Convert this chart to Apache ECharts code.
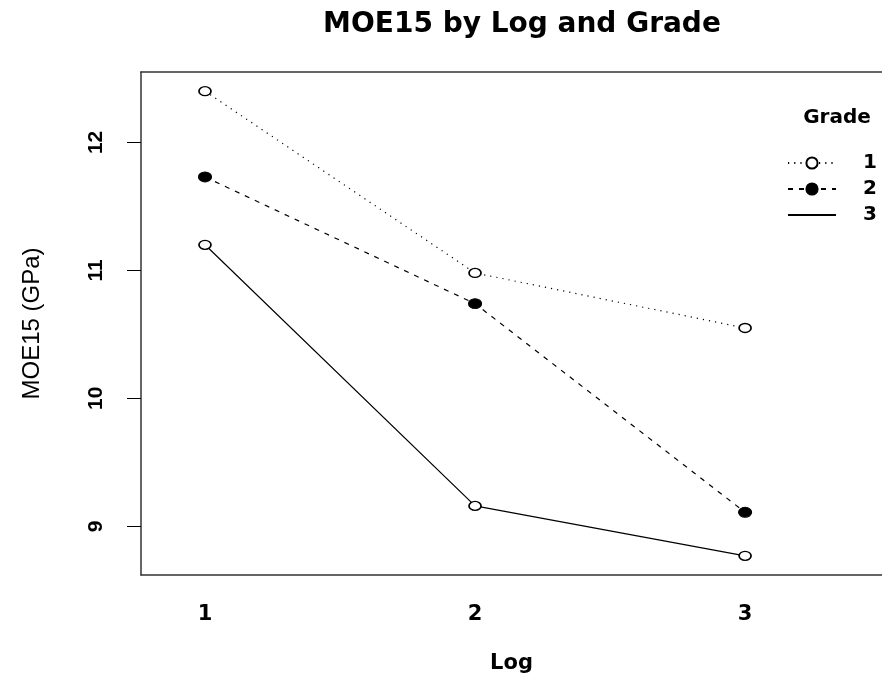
<!DOCTYPE html>
<html>
<head>
<meta charset="utf-8">
<script src="https://cdn.jsdelivr.net/npm/echarts@6/dist/echarts.min.js"></script>
<style>
  html, body { margin: 0; padding: 0; background: #fff; }
  #chart { width: 882px; height: 681px; }
</style>
</head>
<body>
<div id="chart"></div>
<script>
// log positions on x, one value per log for each grade
const logs = [1, 2, 3]
const grade1 = [12.40, 10.98, 10.55]
const grade2 = [11.73, 10.74, 9.11]
const grade3 = [11.20, 9.16, 8.77]
const yTicks = [9, 10, 11, 12]

const pairs = vals => logs.map((x, i) => [x, vals[i]])

const chart = echarts.init(document.getElementById('chart'))

const openDot = { color: '#fff', borderColor: '#000', borderWidth: 1.5 }
const frame = { show: true, lineStyle: { color: '#333', width: 1.5 } }

chart.setOption({
  animation: false,
  backgroundColor: '#fff',
  title: [{
    text: 'MOE15 by Log and Grade',
    left: 517,
    top: 6,
    textAlign: 'center',
    textStyle: { fontFamily: 'DejaVu Sans', fontWeight: 'bold', fontSize: 28, color: '#000' }
  }, {
    text: 'Grade',
    left: 832,
    top: 103,
    textAlign: 'center',
    textStyle: { fontFamily: 'DejaVu Sans', fontWeight: 'bold', fontSize: 20, color: '#000' }
  }],
  legend: {
    orient: 'vertical',
    left: 782,
    top: 148,
    itemWidth: 48,
    itemHeight: 14,
    itemGap: 6,
    data: [
      { name: '1' },
      { name: '2' },
      { name: '3', itemStyle: { color: 'rgba(0,0,0,0)', borderColor: 'rgba(0,0,0,0)', borderWidth: 0 } }
    ],
    textStyle: {
      fontFamily: 'DejaVu Sans', fontWeight: 'bold', fontSize: 20, color: '#000',
      padding: [0, 0, 0, 22]
    }
  },
  grid: { left: 141, top: 72, right: 0, bottom: 106 },
  xAxis: [{
    type: 'value',
    min: 0.763,
    max: 3.507,
    name: 'Log',
    nameLocation: 'middle',
    nameGap: 78,
    nameTextStyle: { fontFamily: 'DejaVu Sans', fontWeight: 'bold', fontSize: 21, color: '#000' },
    axisLine: frame,
    axisTick: { show: false },
    splitLine: { show: false },
    axisLabel: {
      customValues: logs,
      margin: 29,
      fontFamily: 'DejaVu Sans', fontWeight: 'bold', fontSize: 21, color: '#000'
    }
  }, {
    // top edge of the plot box
    type: 'value',
    position: 'top',
    min: 0.763,
    max: 3.507,
    axisLine: frame,
    axisTick: { show: false },
    axisLabel: { show: false },
    splitLine: { show: false }
  }],
  yAxis: {
    type: 'value',
    min: 8.62,
    max: 12.55,
    name: 'MOE15 (GPa)',
    nameLocation: 'middle',
    nameGap: 97,
    nameTextStyle: { fontFamily: 'Liberation Sans', fontSize: 24, color: '#000' },
    axisLine: frame,
    splitLine: { show: false },
    axisTick: {
      customValues: yTicks,
      length: 14,
      lineStyle: { color: '#000', width: 1 }
    },
    axisLabel: {
      customValues: yTicks,
      rotate: 90,
      margin: 34,
      fontFamily: 'Liberation Sans', fontWeight: 'bold', fontSize: 21, color: '#000'
    }
  },
  series: [{
    name: '1',
    type: 'line',
    data: pairs(grade1),
    symbol: 'circle',
    symbolSize: [12, 9],
    itemStyle: openDot,
    lineStyle: { color: '#000', width: 1.2, type: [1.2, 5] }
  }, {
    name: '2',
    type: 'line',
    data: pairs(grade2),
    symbol: 'circle',
    symbolSize: [13, 10],
    itemStyle: { color: '#000', borderColor: '#000', borderWidth: 1 },
    lineStyle: { color: '#000', width: 1.2, type: [5, 6] }
  }, {
    name: '3',
    type: 'line',
    data: pairs(grade3),
    symbol: 'circle',
    symbolSize: [12, 9],
    itemStyle: openDot,
    lineStyle: { color: '#000', width: 1.2, type: 'solid' }
  }]
})
</script>
</body>
</html>
